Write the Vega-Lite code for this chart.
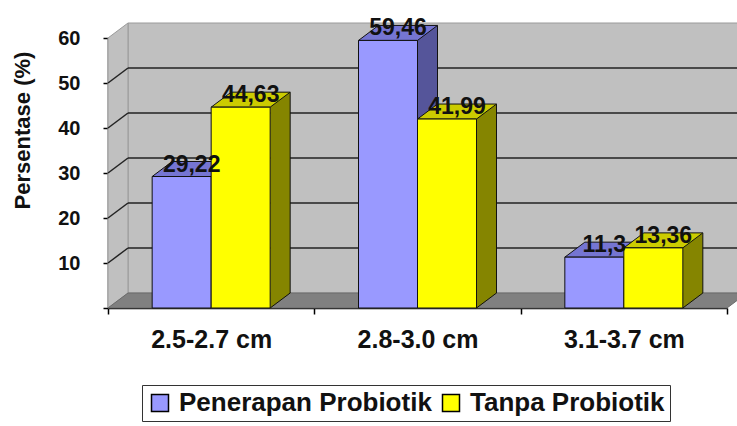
{
  "$schema": "https://vega.github.io/schema/vega-lite/v6.json",
  "width": 619,
  "height": 270,
  "autosize": {"type": "none"},
  "padding": {"left": 108, "top": 38, "right": 10, "bottom": 118},
  "background": "white",
  "config": {
    "view": {"stroke": null},
    "font": "Liberation Sans",
    "locale": {"number": {"decimal": ",", "thousands": ".", "grouping": [3], "currency": ["", ""]}}
  },
  "datasets": {
    "bars": [
      {"cat": "2.5-2.7 cm", "series": "Penerapan Probiotik", "value": 29.22},
      {"cat": "2.5-2.7 cm", "series": "Tanpa Probiotik", "value": 44.63},
      {"cat": "2.8-3.0 cm", "series": "Penerapan Probiotik", "value": 59.46},
      {"cat": "2.8-3.0 cm", "series": "Tanpa Probiotik", "value": 41.99},
      {"cat": "3.1-3.7 cm", "series": "Penerapan Probiotik", "value": 11.3},
      {"cat": "3.1-3.7 cm", "series": "Tanpa Probiotik", "value": 13.36}
    ],
    "ticks": [{"v": 10}, {"v": 20}, {"v": 30}, {"v": 40}, {"v": 50}],
    "one": [{}]
  },
  "resolve": {"scale": {"x": "independent"}},
  "layer": [
    {
      "data": {"name": "one"},
      "layer": [
        {
          "mark": {"type": "rect", "fill": "#C0C0C0", "stroke": "#9a9a9a", "strokeWidth": 1, "xOffset": 20, "x2Offset": 20, "yOffset": -15, "y2Offset": -15},
          "encoding": {
            "x": {"datum": 0, "type": "quantitative", "scale": {"domain": [0, 1], "nice": false, "zero": false}, "axis": null},
            "x2": {"datum": 1},
            "y": {"datum": 0, "type": "quantitative", "scale": {"domain": [0, 60], "nice": false}},
            "y2": {"datum": 60}
          }
        },
        {
          "mark": {"type": "point", "shape": "M0,0 L0,-270 L20,-285 L20,-15 Z", "size": 4, "filled": true, "fill": "#C0C0C0", "stroke": "#9a9a9a", "strokeWidth": 1, "opacity": 1},
          "encoding": {
            "x": {"datum": 0, "type": "quantitative", "axis": null},
            "y": {"datum": 0, "type": "quantitative"}
          }
        },
        {
          "data": {"name": "ticks"},
          "mark": {"type": "rule", "stroke": "#222222", "strokeWidth": 1.5, "xOffset": 20, "x2Offset": 20, "yOffset": -15},
          "encoding": {
            "x": {"datum": 0, "type": "quantitative", "axis": null},
            "x2": {"datum": 1},
            "y": {"field": "v", "type": "quantitative"}
          }
        },
        {
          "data": {"name": "ticks"},
          "mark": {"type": "rule", "stroke": "#222222", "strokeWidth": 1.5, "x2Offset": 20, "y2Offset": -15},
          "encoding": {
            "x": {"datum": 0, "type": "quantitative", "axis": null},
            "x2": {"datum": 0},
            "y": {"field": "v", "type": "quantitative"},
            "y2": {"field": "v"}
          }
        },
        {
          "mark": {"type": "point", "shape": "M0,0 L619,0 L639,-15 L20,-15 Z", "size": 4, "filled": true, "fill": "#808080", "stroke": "#6a6a6a", "strokeWidth": 1, "opacity": 1},
          "encoding": {
            "x": {"datum": 0, "type": "quantitative", "axis": null},
            "y": {"datum": 0, "type": "quantitative"}
          }
        }
      ]
    },
    {
      "data": {"name": "bars"},
      "layer": [
        {
          "transform": [{"filter": {"field": "series", "equal": "Penerapan Probiotik"}}],
          "mark": {"type": "rule", "stroke": "#55559A", "strokeWidth": 20, "xOffset": 10, "yOffset": -15, "y2Offset": -15},
          "encoding": {
            "x": {"field": "cat", "type": "nominal", "scale": {"type": "band", "paddingInner": 0, "paddingOuter": 0, "domain": ["2.5-2.7 cm", "2.8-3.0 cm", "3.1-3.7 cm"]},
              "axis": {"title": null, "domainColor": "#000000", "domainWidth": 1.5, "tickColor": "#000000", "tickSize": 6, "tickWidth": 1.5, "tickBand": "extent", "labelFont": "Liberation Sans", "labelFontSize": 25, "labelFontWeight": "bold", "labelColor": "#111111", "labelPadding": 13, "labelAngle": 0}},
            "y": {"field": "value", "type": "quantitative", "scale": {"domain": [0, 60], "nice": false},
              "axis": {"title": "Persentase (%)", "values": [0, 10, 20, 30, 40, 50, 60], "labelExpr": "datum.value == 0 ? '' : datum.label", "grid": false, "domainColor": "#000000", "domainWidth": 1.5, "tickColor": "#000000", "tickSize": 5, "tickWidth": 1.5, "labelFont": "Liberation Sans", "labelFontSize": 20, "labelFontWeight": "bold", "labelColor": "#111111", "labelPadding": 23, "titleFont": "Liberation Sans", "titleFontSize": 22, "titleFontWeight": "bold", "titleColor": "#111111", "titleX": -86, "titleY": 92, "titleAngle": -90, "titleAlign": "center", "titleBaseline": "middle"}},
            "y2": {"datum": 0}
          }
        },
        {
          "transform": [{"filter": {"field": "series", "equal": "Penerapan Probiotik"}}],
          "mark": {"type": "point", "shape": "M29.5,0 L29.5,-15 L49.5,-15 Z", "size": 4, "filled": true, "fill": "#55559A", "stroke": "#55559A", "strokeWidth": 0.5, "opacity": 1, "xOffset": -29.5},
          "encoding": {
            "x": {"field": "cat", "type": "nominal", "scale": {"type": "band"}},
            "y": {"datum": 0, "type": "quantitative"}
          }
        },
        {
          "transform": [{"filter": {"field": "series", "equal": "Penerapan Probiotik"}}],
          "mark": {"type": "rule", "stroke": "#111111", "strokeWidth": 1, "xOffset": 20, "yOffset": -15, "y2Offset": -15},
          "encoding": {
            "x": {"field": "cat", "type": "nominal", "scale": {"type": "band"}},
            "y": {"field": "value", "type": "quantitative"},
            "y2": {"datum": 0}
          }
        },
        {
          "transform": [{"filter": {"field": "series", "equal": "Penerapan Probiotik"}}],
          "mark": {"type": "point", "shape": "M-29.5,0 L29.5,0 L49.5,-15 L-9.5,-15 Z", "size": 4, "filled": true, "fill": "#7575D2", "stroke": "#111111", "strokeWidth": 1, "opacity": 1, "xOffset": -29.5},
          "encoding": {
            "x": {"field": "cat", "type": "nominal", "scale": {"type": "band"}},
            "y": {"field": "value", "type": "quantitative"}
          }
        },
        {
          "transform": [{"filter": {"field": "series", "equal": "Penerapan Probiotik"}}],
          "mark": {"type": "bar", "width": 59, "xOffset": -29.5, "stroke": "#111111", "strokeWidth": 1, "opacity": 1},
          "encoding": {
            "x": {"field": "cat", "type": "nominal", "scale": {"type": "band"}},
            "y": {"field": "value", "type": "quantitative"},
            "color": {"field": "series", "type": "nominal", "scale": {"domain": ["Penerapan Probiotik", "Tanpa Probiotik"], "range": ["#9999FF", "#FFFF00"]},
              "legend": {"title": null, "orient": "none", "legendX": 34, "legendY": 347, "direction": "horizontal", "padding": 5, "strokeColor": "#333333", "fillColor": "white", "symbolType": "square", "symbolSize": 289, "symbolStrokeColor": "#000000", "symbolStrokeWidth": 1.5, "labelFont": "Liberation Sans", "labelFontSize": 26, "labelFontWeight": "bold", "labelColor": "#111111", "labelOffset": 6, "labelLimit": 0, "columnPadding": 6}}
          }
        },
        {
          "transform": [{"filter": {"field": "series", "equal": "Tanpa Probiotik"}}],
          "mark": {"type": "rule", "stroke": "#858500", "strokeWidth": 20, "xOffset": 69, "yOffset": -15, "y2Offset": -15},
          "encoding": {
            "x": {"field": "cat", "type": "nominal", "scale": {"type": "band"}},
            "y": {"field": "value", "type": "quantitative"},
            "y2": {"datum": 0}
          }
        },
        {
          "transform": [{"filter": {"field": "series", "equal": "Tanpa Probiotik"}}],
          "mark": {"type": "point", "shape": "M29.5,0 L29.5,-15 L49.5,-15 Z", "size": 4, "filled": true, "fill": "#858500", "stroke": "#858500", "strokeWidth": 0.5, "opacity": 1, "xOffset": 29.5},
          "encoding": {
            "x": {"field": "cat", "type": "nominal", "scale": {"type": "band"}},
            "y": {"datum": 0, "type": "quantitative"}
          }
        },
        {
          "transform": [{"filter": {"field": "series", "equal": "Tanpa Probiotik"}}],
          "mark": {"type": "point", "shape": "M29.5,0 L49.5,-15", "size": 4, "filled": false, "stroke": "#111111", "strokeWidth": 1, "opacity": 1, "xOffset": 29.5},
          "encoding": {
            "x": {"field": "cat", "type": "nominal", "scale": {"type": "band"}},
            "y": {"datum": 0, "type": "quantitative"}
          }
        },
        {
          "transform": [{"filter": {"field": "series", "equal": "Tanpa Probiotik"}}],
          "mark": {"type": "rule", "stroke": "#111111", "strokeWidth": 1, "xOffset": 79, "yOffset": -15, "y2Offset": -15},
          "encoding": {
            "x": {"field": "cat", "type": "nominal", "scale": {"type": "band"}},
            "y": {"field": "value", "type": "quantitative"},
            "y2": {"datum": 0}
          }
        },
        {
          "transform": [{"filter": {"field": "series", "equal": "Tanpa Probiotik"}}],
          "mark": {"type": "point", "shape": "M-29.5,0 L29.5,0 L49.5,-15 L-9.5,-15 Z", "size": 4, "filled": true, "fill": "#CCCC00", "stroke": "#111111", "strokeWidth": 1, "opacity": 1, "xOffset": 29.5},
          "encoding": {
            "x": {"field": "cat", "type": "nominal", "scale": {"type": "band"}},
            "y": {"field": "value", "type": "quantitative"}
          }
        },
        {
          "transform": [{"filter": {"field": "series", "equal": "Tanpa Probiotik"}}],
          "mark": {"type": "bar", "width": 59, "xOffset": 29.5, "stroke": "#111111", "strokeWidth": 1, "opacity": 1},
          "encoding": {
            "x": {"field": "cat", "type": "nominal", "scale": {"type": "band"}},
            "y": {"field": "value", "type": "quantitative"},
            "color": {"field": "series", "type": "nominal"}
          }
        },
        {
          "transform": [{"filter": {"field": "series", "equal": "Penerapan Probiotik"}}],
          "mark": {"type": "text", "dx": -19.5, "dy": -5, "align": "center", "baseline": "alphabetic", "font": "Liberation Sans", "fontSize": 23, "fontWeight": "bold", "color": "#111111"},
          "encoding": {
            "x": {"field": "cat", "type": "nominal", "scale": {"type": "band"}},
            "y": {"field": "value", "type": "quantitative"},
            "text": {"field": "value", "type": "quantitative", "format": ".2~f"}
          }
        },
        {
          "transform": [{"filter": {"field": "series", "equal": "Tanpa Probiotik"}}],
          "mark": {"type": "text", "dx": 39.5, "dy": -5, "align": "center", "baseline": "alphabetic", "font": "Liberation Sans", "fontSize": 23, "fontWeight": "bold", "color": "#111111"},
          "encoding": {
            "x": {"field": "cat", "type": "nominal", "scale": {"type": "band"}},
            "y": {"field": "value", "type": "quantitative"},
            "text": {"field": "value", "type": "quantitative", "format": ".2~f"}
          }
        }
      ]
    }
  ]
}
